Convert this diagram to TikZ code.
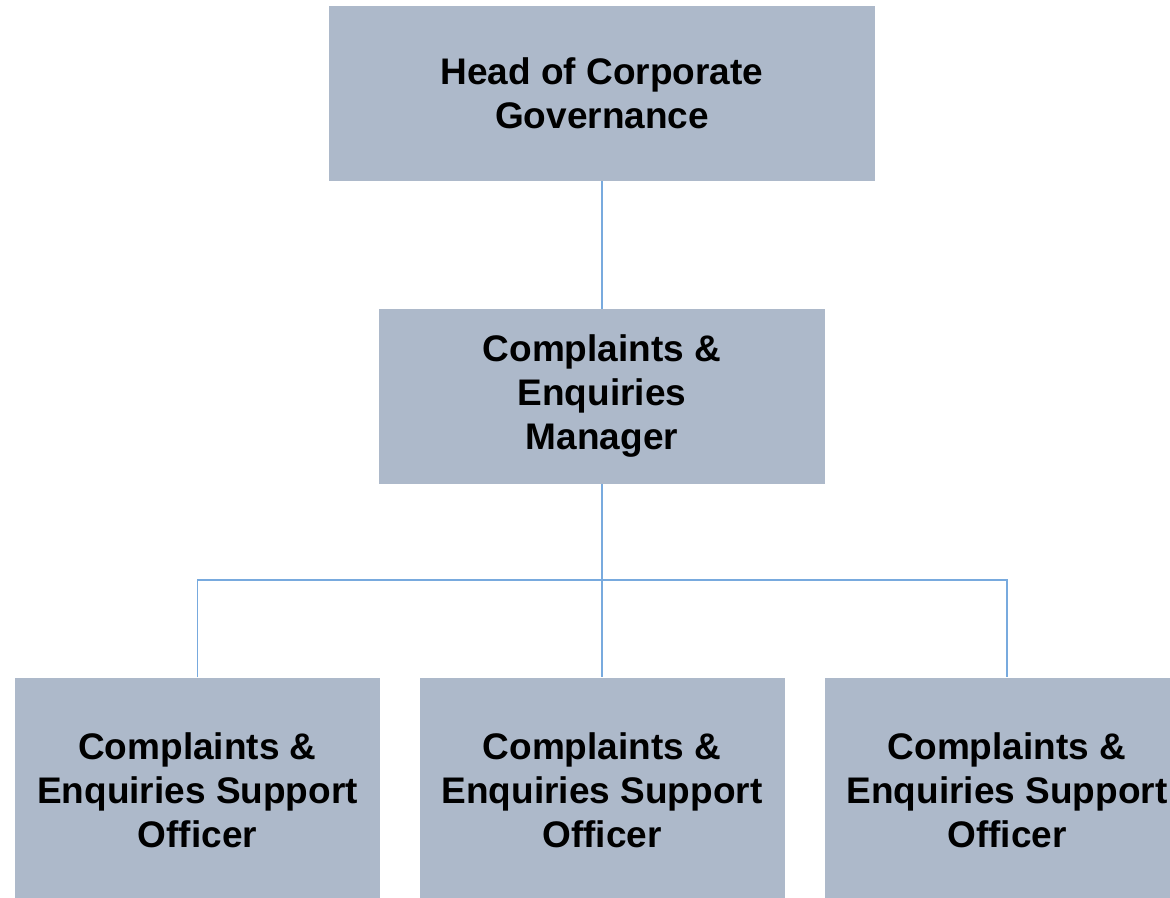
\documentclass[tikz,border=0pt]{standalone}
\usepackage{fontspec}
\setmainfont{Liberation Sans}
\usepackage{xcolor}
\usepackage{tikz}
\usetikzlibrary{positioning}
\definecolor{rolefill}{RGB}{173, 185, 202}
\definecolor{linkblue}{RGB}{120, 170, 222}

\begin{document}
\begin{tikzpicture}[x=1pt, y=-1pt,
    rolenode/.style={rectangle, fill=rolefill, draw=none, inner sep=0pt, align=center, font=\fontsize{37}{44}\selectfont\bfseries},
    link/.style={draw=linkblue, line width=1.2pt}
]
    \useasboundingbox (0,0) rectangle (1170,897);

    % Head
    \node[rolenode, minimum width=546pt, minimum height=175pt] (head) at (602, 93.5) {Head of Corporate\\Governance};

    % Manager
    \node[rolenode, minimum width=446pt, minimum height=175pt] (mgr) at (602, 396.5) {Complaints \&\\Enquiries\\Manager};

    % Support Officers
    \node[rolenode, minimum width=365pt, minimum height=226pt] (off1) at (197.5, 790.5) {Complaints \&\\Enquiries Support\\Officer};
    \node[rolenode, minimum width=365pt, minimum height=226pt] (off2) at (602, 790.5) {Complaints \&\\Enquiries Support\\Officer};
    \node[rolenode, minimum width=365pt, minimum height=226pt] (off3) at (1007, 790.5) {Complaints \&\\Enquiries Support\\Officer};

    % Reporting lines
    \coordinate (bus) at (602, 580);
    \draw[link] (head.south) -- (mgr.north);
    \draw[link] (mgr.south) -- (off2.north);
    \draw[link] (off1.north) |- (bus) -| (off3.north);
\end{tikzpicture}
\end{document}
